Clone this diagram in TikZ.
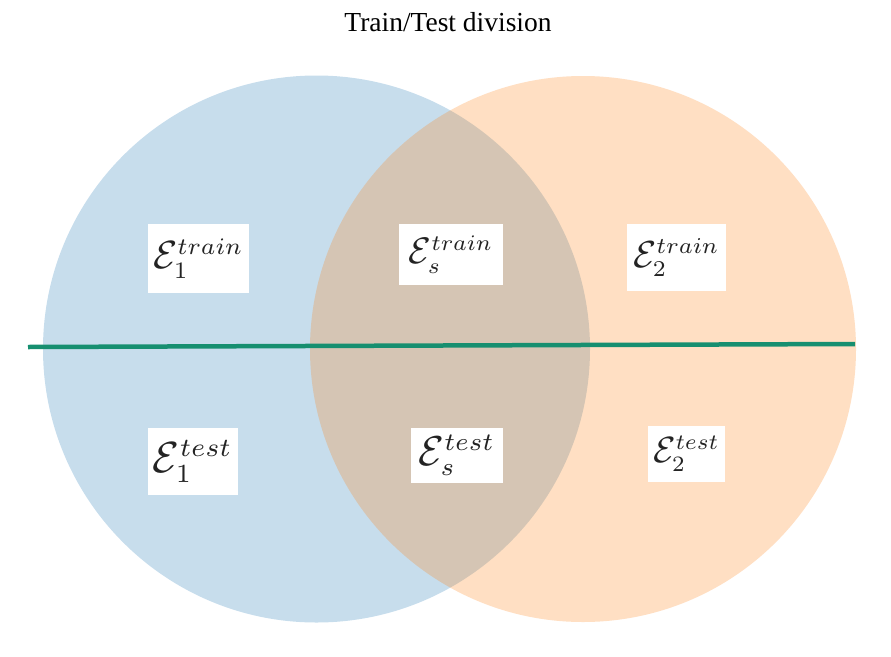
\documentclass[tikz,border=0pt]{standalone}
\usepackage{fontspec}
\usepackage{graphicx}
\newfontfamily\titlefont{Liberation Serif}
\newcommand{\scr}[1]{\scalebox{0.86}{$\scriptstyle #1$}}
\newcommand{\envlab}[2]{$\mathcal{E}_{\scr{#1}}^{\scr{#2}}$}
\definecolor{tabblue}{RGB}{31,119,180}
\definecolor{taborange}{RGB}{255,127,14}
\definecolor{divgreen}{RGB}{22,143,112}
\definecolor{lbltext}{RGB}{35,35,35}
\tikzset{
  venn/.style={fill opacity=0.25, draw=none},
  lbl/.style={fill=white, inner sep=0pt, align=center, text=lbltext},
  divline/.style={draw=divgreen, line width=4.5pt}
}
\begin{document}
\begin{tikzpicture}[x=1pt,y=-1pt]
\useasboundingbox (0,0) rectangle (891,656);
\fill[tabblue, venn] (316.5,349) circle (273.5);
\fill[taborange, venn] (583,349) circle (273);
\node[font=\titlefont\fontsize{27.5}{30}\selectfont, anchor=base] (title) at (448,31) {Train/Test division};
\coordinate (lineL) at (28,347);
\coordinate (lineR) at (855,344);
\draw[divline] (lineL) -- (lineR);
\node[lbl, minimum width=101pt, minimum height=69pt] (e1train) at (198.5,258.5) {\resizebox{90.6pt}{!}{\envlab{1}{train}}};
\node[lbl, minimum width=104pt, minimum height=61pt] (estrain) at (451,254.5) {\resizebox{85pt}{!}{\envlab{s}{train}}};
\node[lbl, minimum width=99pt, minimum height=67pt] (e2train) at (676.5,257.5) {\resizebox{86.7pt}{!}{\envlab{2}{train}}};
\node[lbl, minimum width=90pt, minimum height=67pt] (e1test) at (193,461.5) {\resizebox{80pt}{!}{\envlab{1}{test}}};
\node[lbl, minimum width=92pt, minimum height=55pt] (estest) at (457,455.5) {\resizebox{76.7pt}{!}{\envlab{s}{test}}};
\node[lbl, minimum width=77pt, minimum height=56pt] (e2test) at (686.5,454) {\resizebox{67pt}{!}{\envlab{2}{test}}};
\end{tikzpicture}
\end{document}
